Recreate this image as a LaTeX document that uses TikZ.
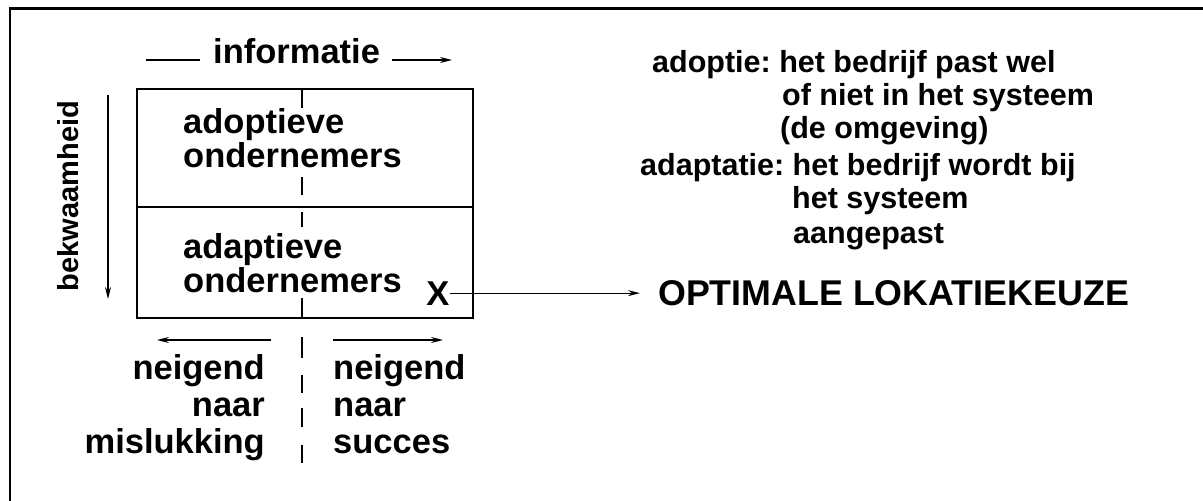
\documentclass[tikz,border=0pt]{standalone}
\usepackage{fontspec}
\setmainfont{Liberation Sans}
\usetikzlibrary{arrows.meta}
\frenchspacing
\tikzset{
  txt/.style={inner sep=0pt, font=\bfseries\fontsize{34.5}{34.5}\selectfont},
  boxtxt/.style={inner sep=0pt, align=left, anchor=base west, font=\bfseries\fontsize{34.5}{27}\selectfont},
  bottxt/.style={inner sep=0pt, font=\bfseries\fontsize{34.5}{37}\selectfont},
  rtxt/.style={inner sep=0pt, font=\bfseries\fontsize{30.5}{30.5}\selectfont, anchor=base west},
  arr/.style={line width=1.2pt, -{Stealth[length=12pt,width=6pt]}},
  frame/.style={line width=1.6pt},
  dsh/.style={line width=1.5pt}
}
\begin{document}
\begin{tikzpicture}[x=1pt,y=-1pt]
\useasboundingbox (0,0) rectangle (1203,501);
% frame
\draw[line width=3pt] (10,8.5) -- (1203,8.5);
\draw[line width=2pt] (10,7) -- (10,501);
% box
\draw[frame] (137,89) rectangle (473,318);
\draw[frame] (137,207) -- (473,207);
% dashed middle line
\foreach \a/\b in {89/108,177/195,212/227,298/318,337/358,375/393,408/427,445/463}
  \draw[dsh] (302,\a) -- (302,\b);
% informatie
\node[txt, anchor=base west] (info) at (213,63) {informatie};
\coordinate (infoL) at (146,60);
\coordinate (infoR) at (452,60);
\draw[line width=1.2pt] (infoL) -- ([xshift=-13pt]infoL -| info.west);
\draw[arr] ([xshift=12pt]infoR -| info.east) -- (infoR);
% bekwaamheid
\node[inner sep=0pt, font=\bfseries\fontsize{29}{29}\selectfont, rotate=90, anchor=base] (bekw) at (78,196) {bekwaamheid};
\coordinate (bkT) at (108,95);
\coordinate (bkB) at (108,299);
\draw[arr] (bkT) -- (bkB);
% box texts (base = baseline of last line)
\node[boxtxt] (a1) at (183,167) {adoptieve\\ondernemers};
\node[boxtxt] (b1) at (183,292) {adaptieve\\ondernemers};
\node[txt, anchor=base] (xmark) at (438,305) {X};
% bottom arrows
\coordinate (lA) at (271,340);
\coordinate (lB) at (157,340);
\coordinate (rA) at (333,340);
\coordinate (rB) at (443,340);
\draw[arr] (lA) -- (lB);
\draw[arr] (rA) -- (rB);
% bottom texts
\node[bottxt, align=right, anchor=base east] (l1) at (265,453) {neigend\\naar\\mislukking};
\node[bottxt, align=left, anchor=base west] (r1) at (333,453) {neigend\\naar\\succes};
% right block
\node[rtxt] (t1) at (652,72) {adoptie: het bedrijf past wel};
\node[rtxt] (t2) at (782,105) {of niet in het systeem};
\node[rtxt] (t3) at (780,138) {(de omgeving)};
\node[rtxt] (t4) at (640,175) {adaptatie: het bedrijf wordt bij};
\node[rtxt] (t5) at (792,208) {het systeem};
\node[rtxt] (t6) at (793,243) {aangepast};
\node[inner sep=0pt, font=\bfseries\fontsize{35.8}{35.8}\selectfont, anchor=base west] (opt) at (658,305) {OPTIMALE LOKATIEKEUZE};
\draw[arr] (xmark.east) -- ([xshift=-18pt]xmark.east -| opt.west);
\end{tikzpicture}
\end{document}
